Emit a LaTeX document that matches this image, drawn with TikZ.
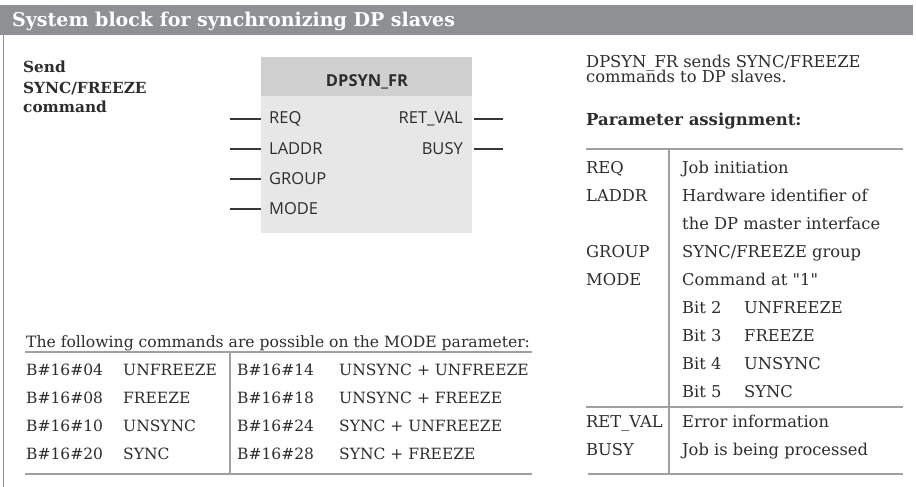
\documentclass[tikz,border=0pt]{standalone}
\usepackage{fontspec}
\setmainfont{DejaVu Serif}
\newfontfamily\quotefont[Ligatures=TeXOff]{DejaVu Serif}
\newfontfamily\blockfont{Open Sans}
\definecolor{headgray}{RGB}{143,144,148}
\definecolor{framegray}{RGB}{150,150,150}
\definecolor{rulegray}{RGB}{160,160,160}
\definecolor{txt}{RGB}{45,45,45}
\definecolor{blkhead}{RGB}{208,208,208}
\definecolor{blkbody}{RGB}{230,231,230}
\definecolor{wire}{RGB}{55,55,55}
\tikzset{
  body/.style={anchor=base west, inner sep=0pt, text=txt, font=\fontsize{16.3}{19}\selectfont},
  cmdtext/.style={anchor=base west, inner sep=0pt, text=txt, font=\fontsize{15.5}{19}\selectfont},
  bodybold/.style={anchor=base west, inner sep=0pt, text=txt, font=\bfseries\fontsize{16.5}{19}\selectfont},
  sendbold/.style={anchor=base west, inner sep=0pt, text=txt, font=\bfseries\fontsize{15.3}{19}\selectfont},
  port/.style={anchor=base west, inner sep=0pt, text=txt, font=\blockfont\fontsize{16.5}{19}\selectfont},
  portr/.style={anchor=base east, inner sep=0pt, text=txt, font=\blockfont\fontsize{16.5}{19}\selectfont},
  wireline/.style={draw=wire, line width=1.2pt},
  tabrule/.style={draw=rulegray, line width=1.3pt},
}
\begin{document}
\begin{tikzpicture}[x=1pt,y=-1pt]
\useasboundingbox (0,0) rectangle (916,487);
\fill[white] (0,0) rectangle (916,487);
% header bar
\fill[headgray] (0,5) rectangle (913,35);
\node[anchor=base west, inner sep=0pt, text=white, font=\bfseries\fontsize{19}{21}\selectfont] (title) at (12,27) {System block for synchronizing DP slaves};
\draw[framegray, line width=1pt] (3,35) -- (3,487);
% left heading
\node[sendbold] (send1) at (23,73) {Send};
\node[sendbold] (send2) at (23,93) {SYNC/FREEZE};
\node[sendbold] (send3) at (23,113) {command};
% block
\node[anchor=north west, fill=blkbody, minimum width=211pt, minimum height=176pt, inner sep=0pt] (blk) at (261,57) {};
\node[anchor=north west, fill=blkhead, minimum width=211pt, minimum height=39pt, inner sep=0pt] (blkh) at (261,57) {};
\node[anchor=base, inner sep=0pt, text=txt, font=\blockfont\bfseries\fontsize{16.5}{19}\selectfont] (bname) at (367,87) {DPSYN\_FR};
% ports
\coordinate (pReq) at (269,119);
\coordinate (pLad) at (269,149);
\coordinate (pGrp) at (269,179);
\coordinate (pMod) at (269,209);
\node[port, anchor=west] (req) at (pReq) {REQ};
\node[port, anchor=west] (laddr) at (pLad) {LADDR};
\node[port, anchor=west] (group) at (pGrp) {GROUP};
\node[port, anchor=west] (mode) at (pMod) {MODE};
\node[portr, anchor=east] (retval) at (463,119) {RET\_VAL};
\node[portr, anchor=east] (busy) at (463,149) {BUSY};
\coordinate (inReq) at (230,119);
\coordinate (inLad) at (230,149);
\coordinate (inGrp) at (230,179);
\coordinate (inMod) at (230,209);
\coordinate (outRet) at (503,119);
\coordinate (outBusy) at (503,149);
\draw[wireline] (inReq) -- (req.west -| blk.west);
\draw[wireline] (inLad) -- (laddr.west -| blk.west);
\draw[wireline] (inGrp) -- (group.west -| blk.west);
\draw[wireline] (inMod) -- (mode.west -| blk.west);
\draw[wireline] (retval.east -| blk.east) ++(2,0) -- (outRet);
\draw[wireline] (busy.east -| blk.east) ++(2,0) -- (outBusy);
% right description
\node[body] (d1) at (586,67) {DPSYN\_FR sends SYNC/FREEZE};
\node[body] (d2) at (586,82) {commands to DP slaves.};
\node[bodybold] (pa) at (586,125) {Parameter assignment:};
\draw[tabrule] (586,149) -- (903,149);
\draw[tabrule] (669,149) -- (669,474);
\draw[tabrule] (586,407) -- (903,407);
\draw[tabrule] (588,474) -- (903,474);
\node[body] (r1a) at (586,173) {REQ};
\node[body] (r1b) at (682,173) {Job initiation};
\node[body] (r2a) at (586,201) {LADDR};
\node[body] (r2b) at (682,201) {Hardware identifier of};
\node[body] (r3b) at (682,229) {the DP master interface};
\node[body] (r4a) at (586,257) {GROUP};
\node[body] (r4b) at (682,257) {SYNC/FREEZE group};
\node[body] (r5a) at (586,285) {MODE};
\node[body] (r5b) at (682,285) {Command at {\quotefont"}1{\quotefont"}};
\node[body] (b2a) at (682,313) {Bit 2};
\node[body] (b2b) at (744,313) {UNFREEZE};
\node[body] (b3a) at (682,341) {Bit 3};
\node[body] (b3b) at (744,341) {FREEZE};
\node[body] (b4a) at (682,369) {Bit 4};
\node[body] (b4b) at (744,369) {UNSYNC};
\node[body] (b5a) at (682,397) {Bit 5};
\node[body] (b5b) at (744,397) {SYNC};
\node[body] (r6a) at (586,427) {RET\_VAL};
\node[body] (r6b) at (682,427) {Error information};
\node[body] (r7a) at (586,455) {BUSY};
\node[body] (r7b) at (682,455) {Job is being processed};
% bottom-left table
\node[cmdtext, font=\fontsize{15.6}{19}\selectfont] (cmdh) at (26,347) {The following commands are possible on the MODE parameter:};
\draw[tabrule] (25,352) -- (532,352);
\draw[tabrule] (230,352) -- (230,474);
\draw[tabrule] (25,474) -- (532,474);
\node[cmdtext] (c1a) at (26,375) {B\#16\#04};
\node[cmdtext] (c1b) at (123,375) {UNFREEZE};
\node[cmdtext] (c2a) at (26,403) {B\#16\#08};
\node[cmdtext] (c2b) at (123,403) {FREEZE};
\node[cmdtext] (c3a) at (26,431) {B\#16\#10};
\node[cmdtext] (c3b) at (123,431) {UNSYNC};
\node[cmdtext] (c4a) at (26,459) {B\#16\#20};
\node[cmdtext] (c4b) at (123,459) {SYNC};
\node[cmdtext] (c5a) at (237,375) {B\#16\#14};
\node[cmdtext] (c5b) at (339,375) {UNSYNC + UNFREEZE};
\node[cmdtext] (c6a) at (237,403) {B\#16\#18};
\node[cmdtext] (c6b) at (339,403) {UNSYNC + FREEZE};
\node[cmdtext] (c7a) at (237,431) {B\#16\#24};
\node[cmdtext] (c7b) at (339,431) {SYNC + UNFREEZE};
\node[cmdtext] (c8a) at (237,459) {B\#16\#28};
\node[cmdtext] (c8b) at (339,459) {SYNC + FREEZE};
\end{tikzpicture}
\end{document}
